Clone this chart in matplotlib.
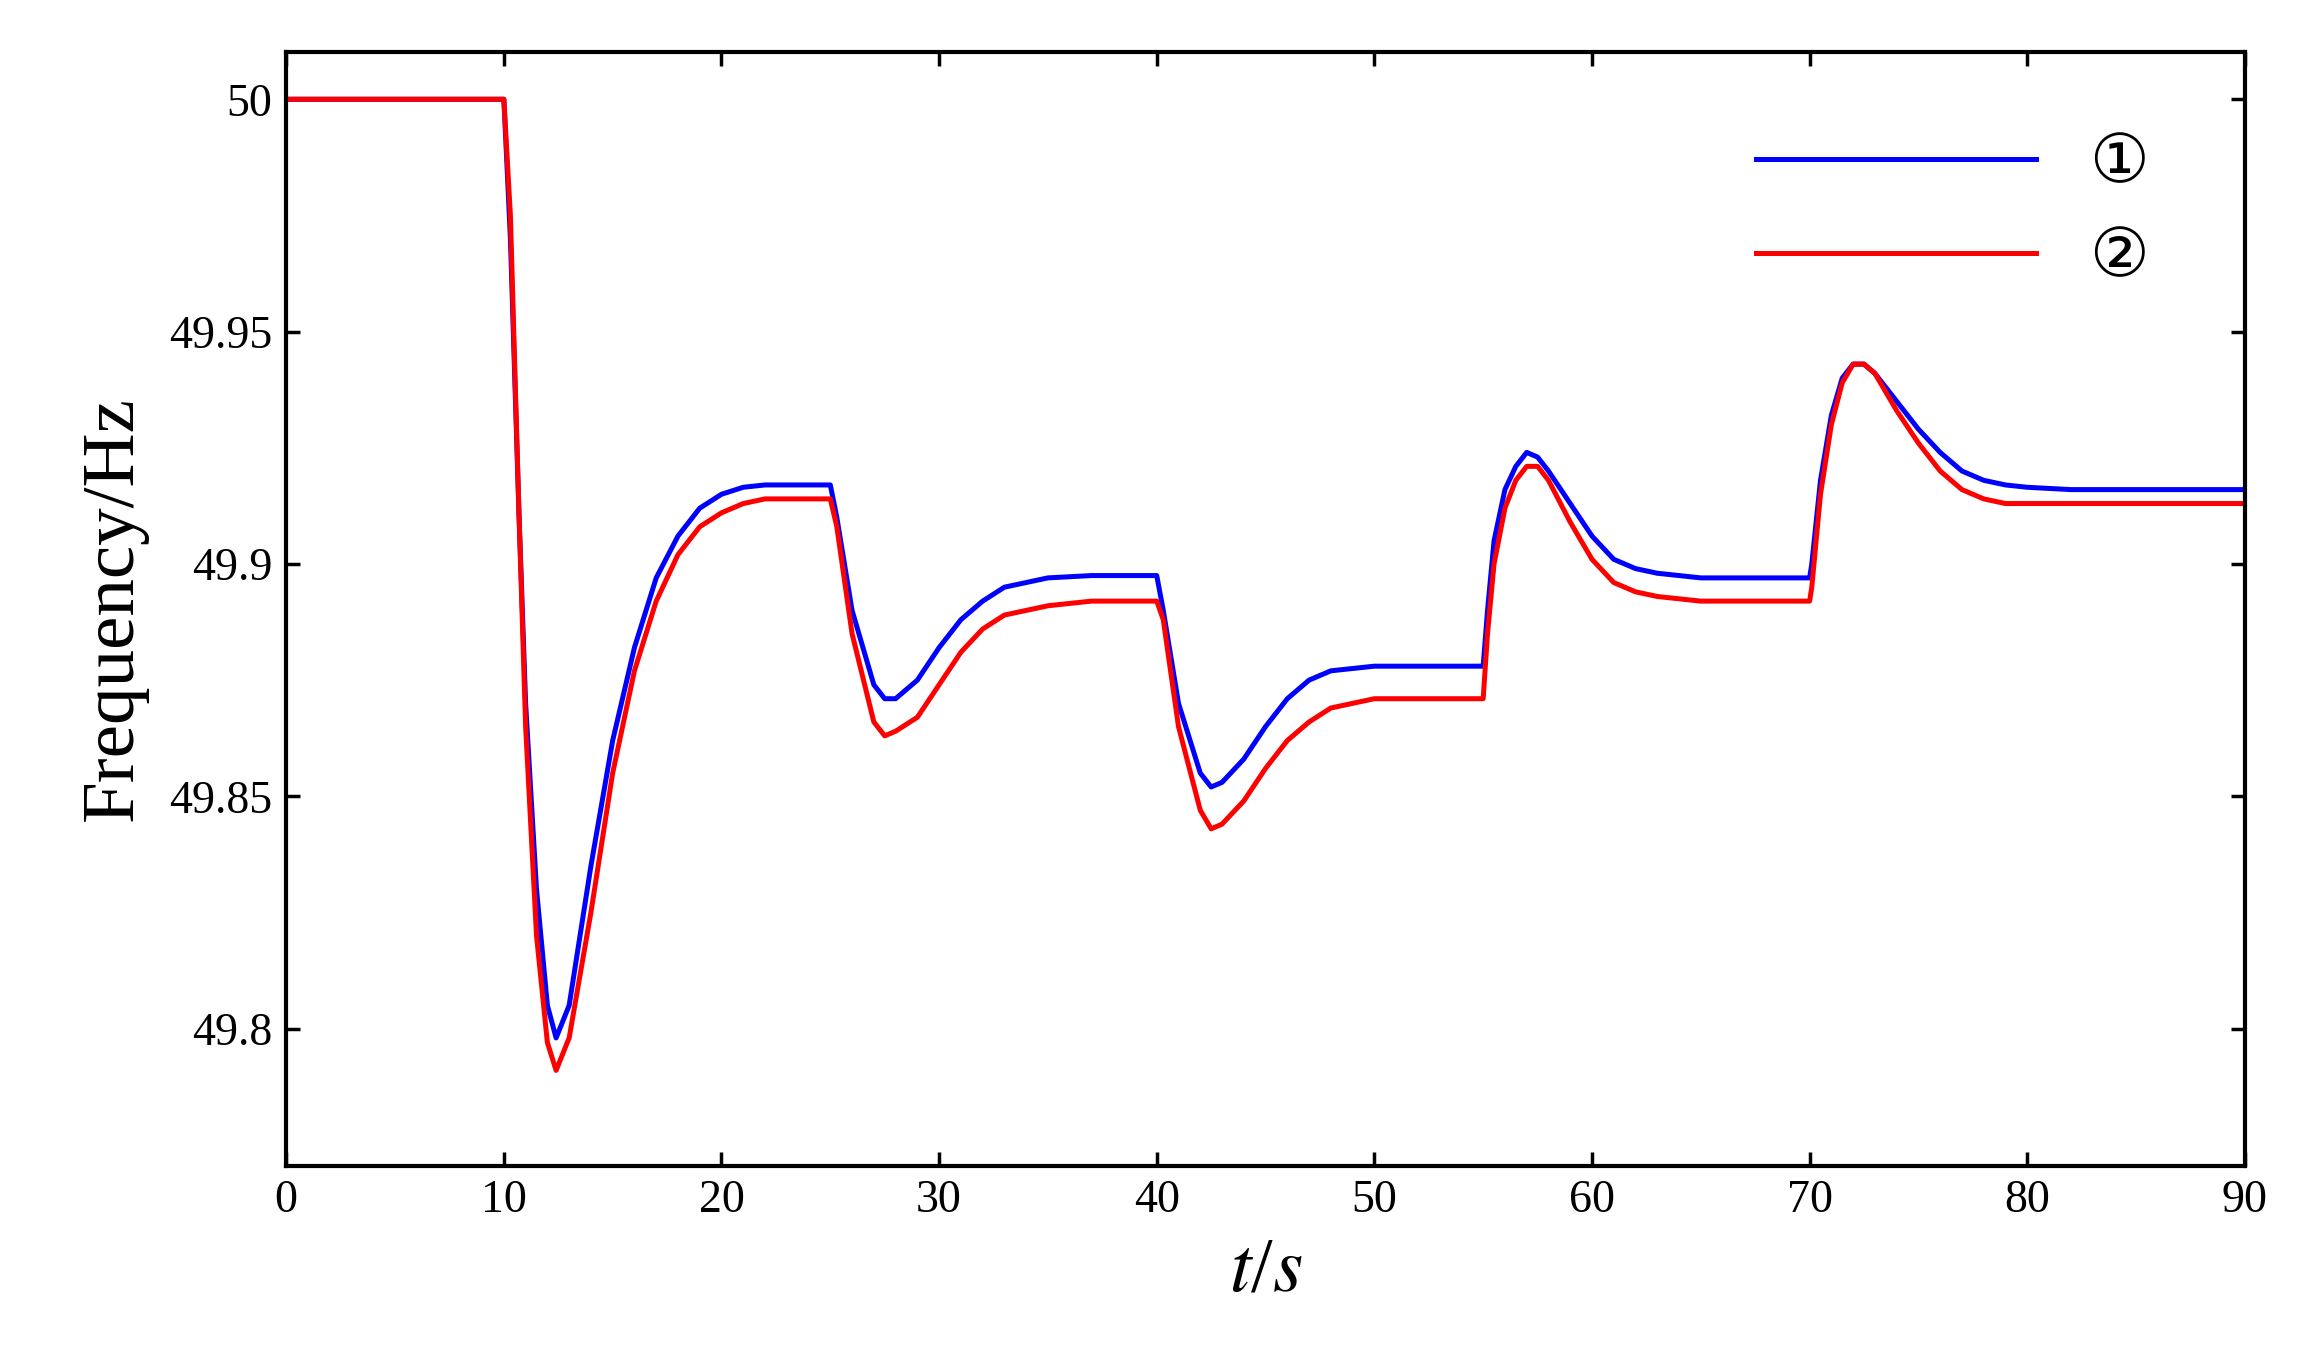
import numpy as np
import matplotlib
matplotlib.use('Agg')
import matplotlib.pyplot as plt

plt.rcParams['font.family'] = ['Liberation Serif', 'DejaVu Sans']
plt.rcParams['mathtext.fontset'] = 'stix'

# time points (s)
t = [0, 10,
     10.3, 10.7, 11, 11.5, 12, 12.4, 13, 14, 15, 16, 17, 18, 19, 20, 21, 22, 23, 25,
     25.3, 26, 27, 27.5, 28, 29, 30, 31, 32, 33, 35, 37, 40,
     40.3, 41, 42, 42.5, 43, 44, 45, 46, 47, 48, 50, 52, 55,
     55.2, 55.5, 56, 56.5, 57, 57.5, 58, 59, 60, 61, 62, 63, 65, 67, 70,
     70.1, 70.5, 71, 71.5, 72, 72.5, 73, 74, 75, 76, 77, 78, 79, 80, 82, 85, 90]

# series 1 (blue)
f1 = [50, 50,
      49.97, 49.91, 49.87, 49.83, 49.805, 49.798, 49.805, 49.835, 49.862, 49.882, 49.897, 49.906, 49.912, 49.915, 49.9165, 49.917, 49.917, 49.917,
      49.91, 49.89, 49.874, 49.871, 49.871, 49.875, 49.882, 49.888, 49.892, 49.895, 49.897, 49.8975, 49.8975,
      49.89, 49.87, 49.855, 49.852, 49.853, 49.858, 49.865, 49.871, 49.875, 49.877, 49.878, 49.878, 49.878,
      49.89, 49.905, 49.916, 49.921, 49.924, 49.923, 49.92, 49.913, 49.906, 49.901, 49.899, 49.898, 49.897, 49.897, 49.897,
      49.9, 49.918, 49.932, 49.94, 49.943, 49.943, 49.941, 49.935, 49.929, 49.924, 49.92, 49.918, 49.917, 49.9165, 49.916, 49.916, 49.916]

# series 2 (red)
f2 = [50, 50,
      49.975, 49.91, 49.865, 49.82, 49.797, 49.791, 49.798, 49.825, 49.855, 49.877, 49.892, 49.902, 49.908, 49.911, 49.913, 49.914, 49.914, 49.914,
      49.908, 49.885, 49.866, 49.863, 49.864, 49.867, 49.874, 49.881, 49.886, 49.889, 49.891, 49.892, 49.892,
      49.888, 49.865, 49.847, 49.843, 49.844, 49.849, 49.856, 49.862, 49.866, 49.869, 49.871, 49.871, 49.871,
      49.885, 49.9, 49.912, 49.918, 49.921, 49.921, 49.918, 49.909, 49.901, 49.896, 49.894, 49.893, 49.892, 49.892, 49.892,
      49.895, 49.915, 49.93, 49.939, 49.943, 49.943, 49.941, 49.933, 49.926, 49.92, 49.916, 49.914, 49.913, 49.913, 49.913, 49.913, 49.913]

xticks = [0, 10, 20, 30, 40, 50, 60, 70, 80, 90]
yticks = [49.8, 49.85, 49.9, 49.95, 50]
ylabels = ['49.8', '49.85', '49.9', '49.95', '50']

fig = plt.figure(figsize=(23.01, 13.65), dpi=100)
ax = fig.add_axes([0.1244, 0.146, 0.8512, 0.816])
ax.plot(t, f1, color='#0000ff', lw=3.6, label='①')
ax.plot(t, f2, color='#ff0000', lw=3.6, label='②')
ax.set_xlim(0, 90)
ax.set_ylim(49.7705, 50.0102)
ax.set_xticks(xticks)
ax.set_yticks(yticks)
ax.set_yticklabels(ylabels)
ax.tick_params(direction='in', length=10, width=2.5, labelsize=33, top=True, right=True, pad=10)
for s in ax.spines.values():
    s.set_linewidth(3)
ax.set_xlabel('$t$/$s$', fontsize=56, labelpad=10)
ax.set_ylabel('Frequency/Hz', fontsize=54, labelpad=15)
leg = ax.legend(loc='upper right', frameon=False, fontsize=48, handlelength=4.2,
                labelspacing=0.5, borderaxespad=0.6, bbox_to_anchor=(0.985, 0.985))
plt.savefig('out.png')
